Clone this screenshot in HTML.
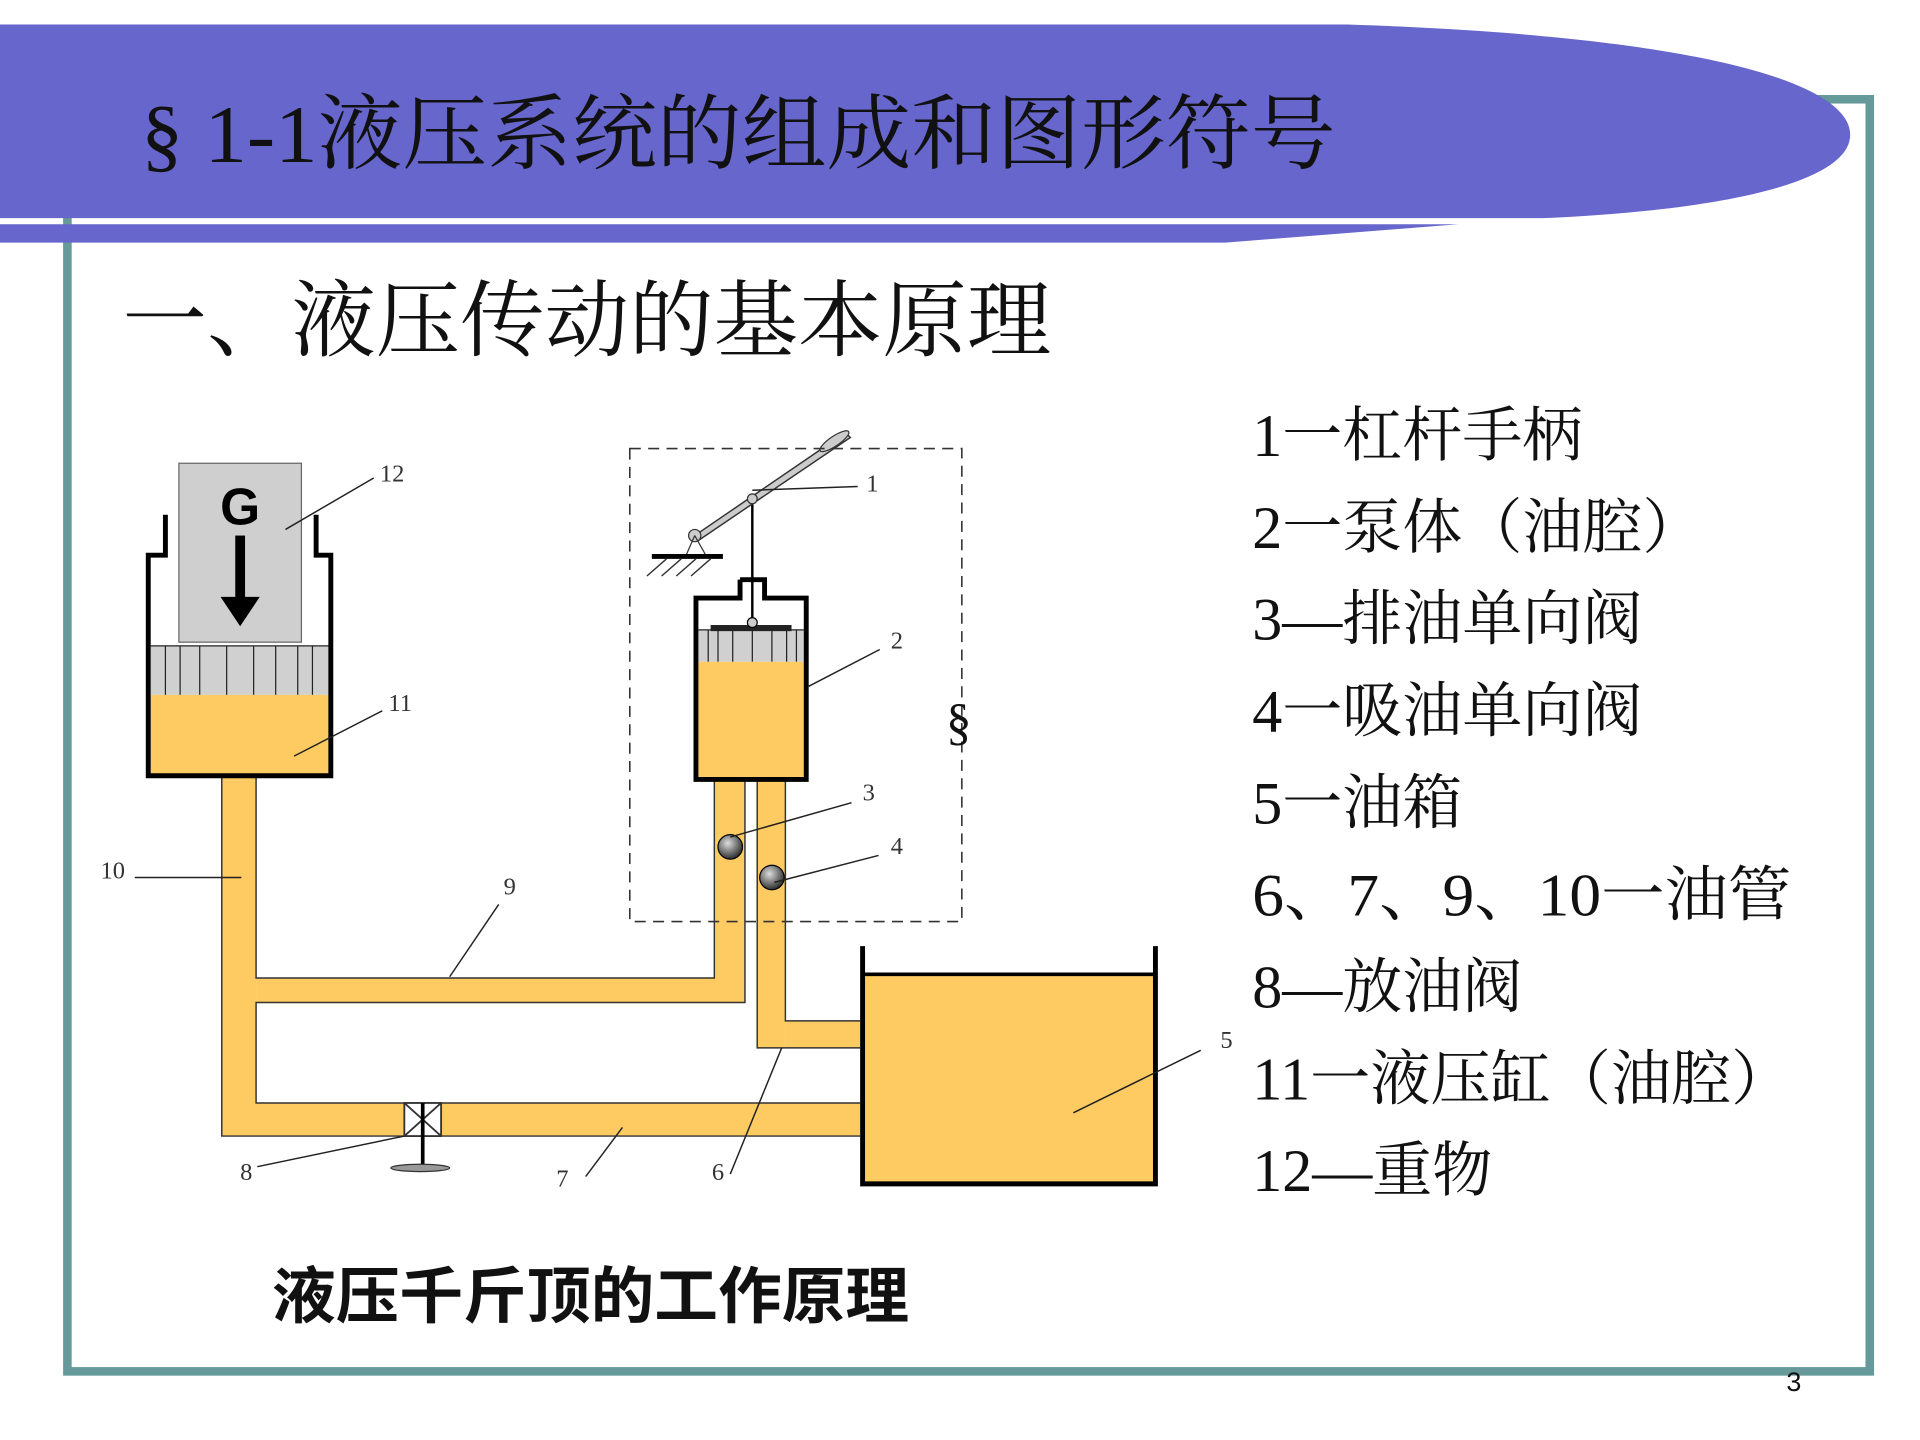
<!DOCTYPE html>
<html><head><meta charset="utf-8"><style>
html,body{margin:0;padding:0;background:#fff;}
svg{display:block;}
.s{font-family:"Liberation Serif","Noto Serif CJK SC",serif;}
</style></head><body>
<svg width="1920" height="1440" viewBox="0 0 1567 1175" preserveAspectRatio="none" xmlns="http://www.w3.org/2000/svg">
<rect width="1567" height="1175" fill="#fff"/>
<rect x="55" y="81" width="1471" height="1038" fill="none" stroke="#669999" stroke-width="7"/>
<path d="M0,20 L1100,20 C1400,30 1510,70 1510,110 C1510,150 1400,172 1260,178 L0,178 Z" fill="#6666cc"/>
<path d="M0,183 L1190,183 L1000,198 L0,198 Z" fill="#6666cc"/>
<text x="115" y="132" class="s" font-size="67" fill="#111" textLength="975" lengthAdjust="spacingAndGlyphs">§ 1-1液压系统的组成和图形符号</text>
<text x="100" y="285" class="s" font-size="68" fill="#111" textLength="758" lengthAdjust="spacingAndGlyphs">一、液压传动的基本原理</text>
<g class="s" font-size="49" fill="#111">
<text x="1022" y="372">1一杠杆手柄</text>
<text x="1022" y="447">2一泵体（油腔）</text>
<text x="1022" y="522">3—排油单向阀</text>
<text x="1022" y="597">4一吸油单向阀</text>
<text x="1022" y="672">5一油箱</text>
<text x="1022" y="747" textLength="440" lengthAdjust="spacingAndGlyphs">6、7、9、10一油管</text>
<text x="1022" y="822">8—放油阀</text>
<text x="1022" y="897" textLength="440" lengthAdjust="spacingAndGlyphs">11一液压缸（油腔）</text>
<text x="1022" y="972">12—重物</text>
</g>
<text x="222" y="1075" font-family="'Liberation Sans','Noto Sans CJK SC',sans-serif" font-weight="bold" font-size="50" fill="#111" textLength="520" lengthAdjust="spacingAndGlyphs">液压千斤顶的工作原理</text>
<text x="1458" y="1135" font-family="'Liberation Sans',sans-serif" font-size="22" fill="#111">3</text>

<g fill="#fdcb62">
<rect x="181" y="633" width="28" height="294"/>
<rect x="209" y="798" width="399" height="20"/>
<rect x="583" y="634" width="25" height="184"/>
<rect x="181" y="900" width="521" height="27"/>
<rect x="618" y="634" width="23" height="221"/>
<rect x="641" y="833" width="61" height="22"/>
</g>
<g stroke="#333" stroke-width="1.2" fill="none">
<path d="M181,633 V927 H702 M209,633 V798 H583 V634 M608,634 V818 H209 V900 H702 M618,634 V855 H702 M641,634 V833 H702"/>
</g>
<rect x="146" y="378" width="100" height="146" fill="#cfcfcf" stroke="#666" stroke-width="1"/>
<text x="196" y="428" text-anchor="middle" font-family="'Liberation Sans',sans-serif" font-weight="bold" font-size="42">G</text>
<rect x="192" y="437" width="8" height="52" fill="#000"/>
<polygon points="180,487 212,487 196,511" fill="#000"/>
<rect x="123" y="527" width="146" height="40" fill="#d0d0d0"/>
<g stroke="#222" stroke-width="1">
<line x1="135" y1="527" x2="135" y2="567"/><line x1="147" y1="527" x2="147" y2="567"/><line x1="163" y1="527" x2="163" y2="567"/><line x1="185" y1="527" x2="185" y2="567"/><line x1="207" y1="527" x2="207" y2="567"/><line x1="225" y1="527" x2="225" y2="567"/><line x1="243" y1="527" x2="243" y2="567"/><line x1="255" y1="527" x2="255" y2="567"/>
<line x1="123" y1="527" x2="269" y2="527"/>
</g>
<rect x="123" y="567" width="146" height="66" fill="#fdcb62"/>
<path d="M135,420 V453 H121 V633 H270 V453 H258 V420" fill="none" stroke="#000" stroke-width="4"/>
<rect x="570" y="514" width="86" height="26" fill="#d0d0d0"/>
<g stroke="#222" stroke-width="1">
<line x1="578" y1="514" x2="578" y2="540"/><line x1="586" y1="514" x2="586" y2="540"/><line x1="598" y1="514" x2="598" y2="540"/><line x1="614" y1="514" x2="614" y2="540"/><line x1="630" y1="514" x2="630" y2="540"/><line x1="642" y1="514" x2="642" y2="540"/><line x1="650" y1="514" x2="650" y2="540"/>
<line x1="570" y1="514" x2="656" y2="514"/>
</g>
<rect x="580" y="510" width="66" height="5" fill="#222"/>
<rect x="570" y="540" width="86" height="95" fill="#fdcb62"/>
<path d="M604,473 V488 H568 V636 H658 V488 H624 V473 H604" fill="none" stroke="#000" stroke-width="4"/>
<line x1="614" y1="407" x2="614" y2="508" stroke="#000" stroke-width="2"/>
<circle cx="614" cy="508" r="4" fill="#ccc" stroke="#000"/>
<path d="M567,437 L690,353 L694,357 L570,441 Z" fill="#ccc" stroke="#333" stroke-width="1.2"/>
<ellipse cx="681" cy="360" rx="14" ry="4" transform="rotate(-34 681 360)" fill="#ccc" stroke="#333"/>
<circle cx="567" cy="437" r="5" fill="#ccc" stroke="#333"/>
<circle cx="614" cy="407" r="4" fill="#ccc" stroke="#333"/>
<path d="M567,437 L560,453 M567,437 L576,453" stroke="#333" stroke-width="1"/>
<line x1="532" y1="454" x2="590" y2="454" stroke="#000" stroke-width="4"/>
<g stroke="#333" stroke-width="1.2"><line x1="544" y1="456" x2="528" y2="470"/><line x1="556" y1="456" x2="540" y2="470"/><line x1="568" y1="456" x2="552" y2="470"/><line x1="580" y1="456" x2="564" y2="470"/></g>
<rect x="514" y="366" width="271" height="386" fill="none" stroke="#333" stroke-width="1.3" stroke-dasharray="9,6"/>
<text x="772" y="603" class="s" font-size="42" fill="#111">§</text>
<defs><radialGradient id="b" cx="0.4" cy="0.35" r="0.7"><stop offset="0" stop-color="#ddd"/><stop offset="1" stop-color="#222"/></radialGradient></defs>
<circle cx="596" cy="691" r="10" fill="url(#b)" stroke="#000"/>
<circle cx="630" cy="716" r="10" fill="url(#b)" stroke="#000"/>
<rect x="704" y="795" width="238" height="171" fill="#fdcb62"/>
<path d="M704,772 V966 H943 V772" fill="none" stroke="#000" stroke-width="4"/>
<line x1="704" y1="795" x2="943" y2="795" stroke="#000" stroke-width="3"/>
<rect x="330" y="900" width="30" height="27" fill="#fff" stroke="#333" stroke-width="1.5"/>
<path d="M330,900 L360,927 M360,900 L330,927" stroke="#333" stroke-width="1.5"/>
<line x1="345" y1="900" x2="345" y2="952" stroke="#000" stroke-width="3"/>
<ellipse cx="343" cy="953" rx="24" ry="3" fill="#999" stroke="#333"/>
<g stroke="#222" stroke-width="1.2">
<line x1="233" y1="432" x2="305" y2="390"/>
<line x1="240" y1="617" x2="312" y2="580"/>
<line x1="660" y1="560" x2="718" y2="530"/>
<line x1="614" y1="400" x2="700" y2="397"/>
<line x1="596" y1="683" x2="695" y2="655"/>
<line x1="632" y1="720" x2="717" y2="698"/>
<line x1="110" y1="716" x2="197" y2="716"/>
<line x1="367" y1="797" x2="407" y2="738"/>
<line x1="876" y1="908" x2="980" y2="857"/>
<line x1="210" y1="952" x2="330" y2="927"/>
<line x1="478" y1="960" x2="508" y2="920"/>
<line x1="596" y1="958" x2="638" y2="855"/>
</g>
<g class="s" font-size="20" fill="#333">
<text x="310" y="393">12</text><text x="317" y="580">11</text><text x="727" y="529">2</text>
<text x="707" y="401">1</text><text x="704" y="653">3</text><text x="727" y="697">4</text>
<text x="82" y="717">10</text><text x="411" y="730">9</text><text x="996" y="855">5</text>
<text x="196" y="963">8</text><text x="454" y="968">7</text><text x="581" y="963">6</text>
</g>
</svg>
</body></html>
